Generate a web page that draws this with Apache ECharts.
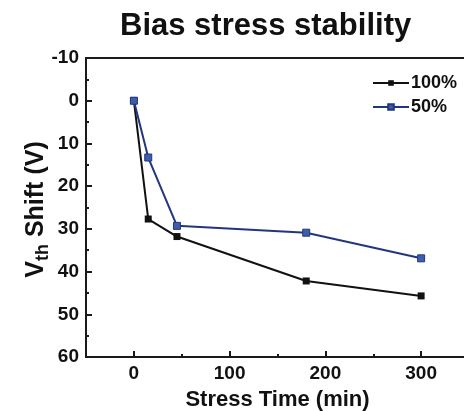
<!DOCTYPE html>
<html>
<head>
<meta charset="utf-8">
<script src="https://cdn.jsdelivr.net/npm/echarts@6/dist/echarts.min.js"></script>
<style>
  html, body { margin: 0; padding: 0; background: #fff; }
  #graph { width: 464px; height: 411px; }
</style>
</head>
<body>
<div id="graph"></div>
<script>
const stressTime = [0, 15, 45, 180, 300];
const shift100 = [0, 27.7, 31.8, 42.2, 45.7];
const shift50 = [0, 13.3, 29.3, 30.9, 36.9];
const xMajorTicks = [0, 100, 200, 300];
const xMinorTicks = [50, 150, 250];

const FONT = "'Liberation Sans', Arial, sans-serif";

function pairs(xs, ys) {
    return xs.map((x, i) => [x, ys[i]]);
}

function createOptions() {
    return {
        animation: false,
        textStyle: { fontFamily: FONT },
        title: {
            text: 'Bias stress stability',
            left: 115,
            top: 6,
            textStyle: { fontFamily: FONT, fontSize: 31, fontWeight: 'bold', color: '#111' }
        },
        legend: {
            orient: 'vertical',
            left: 367,
            top: 69,
            itemWidth: 36,
            itemHeight: 7,
            itemGap: 6,
            textStyle: { fontFamily: FONT, fontSize: 18, fontWeight: 'bold', color: '#111', padding: [0, 0, 0, -3] },
            data: ['100%', '50%']
        },
        grid: {
            left: 86,
            top: 58,
            right: -5,
            bottom: 54,
            outerBoundsMode: 'none',
            containLabel: false,
            show: true,
            borderColor: '#1a1a1a',
            borderWidth: 2
        },
        xAxis: [
            {
                type: 'value',
                min: -50,
                max: 350,
                name: 'Stress Time (min)',
                nameLocation: 'middle',
                nameGap: 32,
                nameTextStyle: { fontFamily: FONT, fontSize: 22, fontWeight: 'bold', color: '#111' },
                axisLine: { show: true, onZero: false, lineStyle: { color: '#1a1a1a', width: 2 } },
                axisTick: { show: true, inside: true, length: 6, customValues: xMajorTicks, lineStyle: { color: '#1a1a1a', width: 2 } },
                axisLabel: { customValues: xMajorTicks, margin: 7, fontFamily: FONT, fontSize: 19, fontWeight: 'bold', color: '#111' },
                splitLine: { show: false }
            },
            {
                type: 'value',
                position: 'bottom',
                min: -50,
                max: 350,
                axisLine: { show: false, onZero: false },
                axisTick: { show: true, inside: true, length: 3, customValues: xMinorTicks, lineStyle: { color: '#1a1a1a', width: 2 } },
                axisLabel: { show: false },
                splitLine: { show: false }
            }
        ],
        yAxis: {
            type: 'value',
            inverse: true,
            min: -10,
            max: 60,
            interval: 10,
            name: '{v|V}{sub|th}{v| Shift (V)}',
            nameLocation: 'middle',
            nameGap: 34,
            nameMoveOverlap: false,
            nameTextStyle: {
                padding: [0, 4, 0, 0],
                rich: {
                    v: { fontFamily: FONT, fontSize: 25, fontWeight: 'bold', color: '#111' },
                    sub: { fontFamily: FONT, fontSize: 18, fontWeight: 'bold', color: '#111', padding: [13, 0, 0, 0] }
                }
            },
            axisLine: { show: true, onZero: false, lineStyle: { color: '#1a1a1a', width: 2 } },
            axisTick: { show: true, inside: true, length: 6, lineStyle: { color: '#1a1a1a', width: 2 } },
            minorTick: { show: true, splitNumber: 2, length: 3, lineStyle: { color: '#1a1a1a', width: 2 } },
            axisLabel: { margin: 7, fontFamily: FONT, fontSize: 19, fontWeight: 'bold', color: '#111' },
            splitLine: { show: false }
        },
        series: [
            {
                name: '100%',
                type: 'line',
                data: pairs(stressTime, shift100),
                symbol: 'rect',
                symbolSize: 7,
                lineStyle: { color: '#111', width: 2 },
                itemStyle: { color: '#111' }
            },
            {
                name: '50%',
                type: 'line',
                data: pairs(stressTime, shift50),
                symbol: 'rect',
                symbolSize: 7,
                lineStyle: { color: '#22367f', width: 2 },
                itemStyle: { color: '#3f5ea8', borderColor: '#22367f', borderWidth: 1 }
            }
        ]
    };
}

const myChart = echarts.init(document.getElementById('graph'));
myChart.setOption(createOptions());
</script>
</body>
</html>
